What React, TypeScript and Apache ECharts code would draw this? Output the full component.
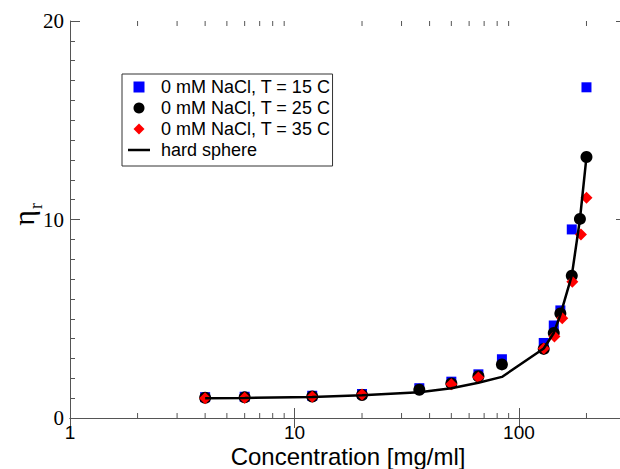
import React, { useEffect, useRef } from "react";
import * as echarts from "echarts";

const X_MIN = 1;
const X_MAX = 300;
const Y_MIN = 0;
const Y_MAX = 20;
const Y_INTERVAL = 10;
const MINOR_X_TICKS = [2, 3, 4, 5, 6, 7, 8, 9, 20, 30, 40, 50, 60, 70, 80, 90, 200];

const SERIES_NAMES = [
  "0 mM NaCl, T = 15 C",
  "0 mM NaCl, T = 25 C",
  "0 mM NaCl, T = 35 C",
  "hard sphere",
];

const T15: [number, number][] = [
  [4, 1.05], [6, 1.07], [12, 1.12], [20, 1.21], [36, 1.5], [50, 1.83], [66, 2.2],
  [84, 2.96], [129, 3.78], [143, 4.66], [153, 5.42], [172, 9.5], [200, 16.66],
];
const T25: [number, number][] = [
  [4, 1.02], [6, 1.04], [12, 1.08], [20, 1.16], [36, 1.42], [50, 1.74], [66, 2.1],
  [84, 2.7], [129, 3.48], [143, 4.28], [153, 5.27], [172, 7.17], [187, 10.03], [200, 13.15],
];
const T35: [number, number][] = [
  [4, 1.0], [6, 1.02], [12, 1.07], [20, 1.18], [50, 1.7], [66, 2.04],
  [129, 3.5], [144, 4.1], [156, 5.02], [173, 6.86], [189, 9.24], [200, 11.1],
];
const HARD_SPHERE: [number, number][] = [
  [4, 1.0], [6, 1.01], [12, 1.06], [20, 1.14], [36, 1.3], [50, 1.5], [66, 1.78],
  [84, 2.07], [129, 3.5], [143, 4.28], [153, 5.2], [172, 7.17], [187, 10.0], [200, 13.15],
];

const AXIS_COLOR = "#555";
const SERIF = "'Liberation Serif', 'DejaVu Serif', serif";
const SANS = "'Liberation Sans', Arial, sans-serif";

export default function App() {
  const ref = useRef<HTMLDivElement>(null);

  useEffect(() => {
    if (!ref.current) return;
    const chart = echarts.init(ref.current, undefined, { renderer: "svg" });

    const baseX = {
      type: "log" as const,
      logBase: 10,
      min: X_MIN,
      max: X_MAX,
      splitLine: { show: false },
      axisLine: { show: true, lineStyle: { color: AXIS_COLOR, width: 1 } },
      axisTick: { show: true, inside: true, length: 10, lineStyle: { color: AXIS_COLOR } },
      minorTick: { show: false },
    };
    const baseY = {
      type: "value" as const,
      min: Y_MIN,
      max: Y_MAX,
      interval: Y_INTERVAL,
      splitLine: { show: false },
      axisLine: { show: true, lineStyle: { color: AXIS_COLOR, width: 1 } },
      axisTick: { show: true, inside: true, length: 10, lineStyle: { color: AXIS_COLOR } },
      minorTick: { show: true, splitNumber: 10, length: 5, lineStyle: { color: AXIS_COLOR } },
    };

    chart.setOption({
      animation: false,
      backgroundColor: "#fff",
      grid: {
        left: 70,
        top: 21,
        width: 556,
        height: 397,
        containLabel: false,
        outerBoundsMode: "none",
      },
      legend: {
        orient: "vertical",
        left: 122,
        top: 74,
        itemWidth: 22,
        itemHeight: 11,
        itemGap: 3,
        padding: [4, 2, 7, 6],
        symbolKeepAspect: true,
        borderColor: "#333",
        borderWidth: 1,
        borderRadius: 0,
        backgroundColor: "#fff",
        textStyle: { fontFamily: SANS, fontSize: 18, color: "#000", padding: [0, 0, 0, 6] },
        data: [
          { name: SERIES_NAMES[0], icon: "path://M0,0H10V10H0Z" },
          { name: SERIES_NAMES[1], icon: "circle" },
          { name: SERIES_NAMES[2], icon: "path://M5,0L10,5L5,10L0,5Z" },
          { name: SERIES_NAMES[3], icon: "path://M0,0H22V2.5H0Z" },
        ],
      },
      xAxis: [
        {
          ...baseX,
          position: "bottom",
          name: "Concentration [mg/ml]",
          nameLocation: "middle",
          nameGap: 26,
          nameMoveOverlap: false,
          nameTextStyle: { fontFamily: SANS, fontSize: 24, color: "#000", lineHeight: 24 },
          axisLabel: {
            show: true,
            margin: 5,
            fontFamily: SANS,
            fontSize: 19,
            color: "#000",
            lineHeight: 19,
            showMaxLabel: false,
            formatter: (v: number) => String(Math.round(v)),
          },
        },
        { ...baseX, position: "top", axisLabel: { show: false } },
      ],
      yAxis: [
        {
          ...baseY,
          position: "left",
          axisLabel: { show: true, margin: 6, fontFamily: SERIF, fontSize: 21, color: "#000" },
        },
        { ...baseY, position: "right", axisLabel: { show: false } },
      ],
      graphic: [
        {
          type: "text",
          x: 23,
          y: 218,
          rotation: Math.PI / 2,
          style: {
            text: "η",
            font: `30px ${SERIF}`,
            fill: "#000",
            align: "center",
            verticalAlign: "middle",
            textAlign: "center",
            textVerticalAlign: "middle",
          },
        },
        {
          type: "text",
          x: 36,
          y: 206,
          rotation: Math.PI / 2,
          style: {
            text: "r",
            font: `18px ${SERIF}`,
            fill: "#000",
            align: "center",
            verticalAlign: "middle",
            textAlign: "center",
            textVerticalAlign: "middle",
          },
        },
      ],
      series: [
        {
          type: "custom",
          name: "minorTicks",
          silent: true,
          xAxisIndex: 0,
          yAxisIndex: 0,
          z: 1,
          clip: false,
          data: MINOR_X_TICKS.map((v) => [v, 0]),
          encode: { x: 0, y: 1 },
          renderItem: (_params: any, api: any) => {
            const v = api.value(0);
            const b = api.coord([v, Y_MIN]);
            const t = api.coord([v, Y_MAX]);
            const style = { stroke: AXIS_COLOR, lineWidth: 1 };
            return {
              type: "group",
              children: [
                { type: "line", shape: { x1: b[0], y1: b[1], x2: b[0], y2: b[1] - 5 }, style },
                { type: "line", shape: { x1: t[0], y1: t[1], x2: t[0], y2: t[1] + 5 }, style },
              ],
            };
          },
        },
        {
          type: "scatter",
          name: SERIES_NAMES[0],
          symbol: "rect",
          symbolSize: 10,
          itemStyle: { color: "#0000ff", opacity: 1 },
          data: T15,
          z: 3,
        },
        {
          type: "scatter",
          name: SERIES_NAMES[1],
          symbol: "circle",
          symbolSize: 12,
          itemStyle: { color: "#000000", opacity: 1 },
          data: T25,
          z: 4,
        },
        {
          type: "scatter",
          name: SERIES_NAMES[2],
          symbol: "diamond",
          symbolSize: 12,
          itemStyle: { color: "#ff0000", opacity: 1 },
          data: T35,
          z: 5,
        },
        {
          type: "line",
          name: SERIES_NAMES[3],
          symbol: "none",
          lineStyle: { color: "#000", width: 2.5 },
          itemStyle: { color: "#000" },
          data: HARD_SPHERE,
          z: 6,
        },
      ],
    });

    return () => chart.dispose();
  }, []);

  return (
    <div
      ref={ref}
      style={{ position: "absolute", left: 0, top: 0, width: 620, height: 469 }}
    />
  );
}
